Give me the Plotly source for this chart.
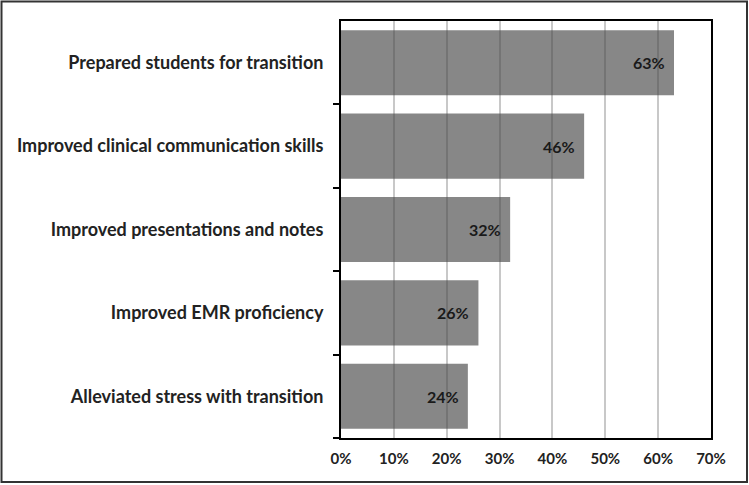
import plotly.graph_objects as go

categories = [
    "Prepared students for transition",
    "Improved clinical communication skills",
    "Improved presentations and notes",
    "Improved EMR proficiency",
    "Alleviated stress with transition",
]
values = [63, 46, 32, 26, 24]
x_ticks = [0, 10, 20, 30, 40, 50, 60, 70]
x_tick_labels = [f"{v}%" for v in x_ticks]

FONT = "Lato"
W, H = 749, 485
L, R, T, B = 341, 38, 21, 47

fig = go.Figure()
fig.add_trace(go.Bar(
    y=categories,
    x=values,
    orientation="h",
    marker=dict(color="rgba(70,70,70,0.65)", line=dict(width=0)),
    hoverinfo="skip",
))

for c, v in zip(categories, values):
    fig.add_annotation(
        x=v, y=c, xref="x", yref="y",
        text=f"<b>{v}%</b>", showarrow=False,
        xanchor="right", xshift=-7,
        font=dict(family=FONT, size=16, color="#1a1a1a"),
    )

pw = W - L - R
ph = H - T - B
fig.add_shape(
    type="rect", xref="paper", yref="paper",
    x0=(1.5 - L) / pw, x1=(W - 2 - L) / pw,
    y0=(ph + T - (H - 3)) / ph, y1=(ph + T - 1.5) / ph,
    line=dict(color="#333333", width=2), layer="above",
)

fig.update_layout(
    width=W, height=H,
    margin=dict(l=L, r=R, t=T, b=B),
    paper_bgcolor="white", plot_bgcolor="white",
    showlegend=False,
    bargap=0.22,
    font=dict(family=FONT, color="#222222"),
)
fig.update_xaxes(
    range=[0, 70],
    tickvals=x_ticks, ticktext=[f"<b>{t}</b>" for t in x_tick_labels],
    showgrid=True, gridcolor="#c8c8c8", gridwidth=1.5,
    showline=True, linecolor="black", linewidth=2, mirror=True,
    ticks="", zeroline=False,
    tickfont=dict(family=FONT, size=15, color="#222222"),
    ticklabelstandoff=6,
    fixedrange=True,
)
fig.update_yaxes(
    categoryorder="array", categoryarray=categories[::-1],
    tickvals=categories, ticktext=[f"<b>{c}</b>" for c in categories],
    showline=True, linecolor="black", linewidth=2, mirror=True,
    ticks="outside", ticklen=6, tickwidth=2, tickcolor="black",
    tickson="boundaries",
    showgrid=False,
    tickfont=dict(family=FONT, size=18, color="#222222"),
    ticklabelstandoff=12,
    fixedrange=True,
)

fig.write_html("out.html", config={"displayModeBar": False})
